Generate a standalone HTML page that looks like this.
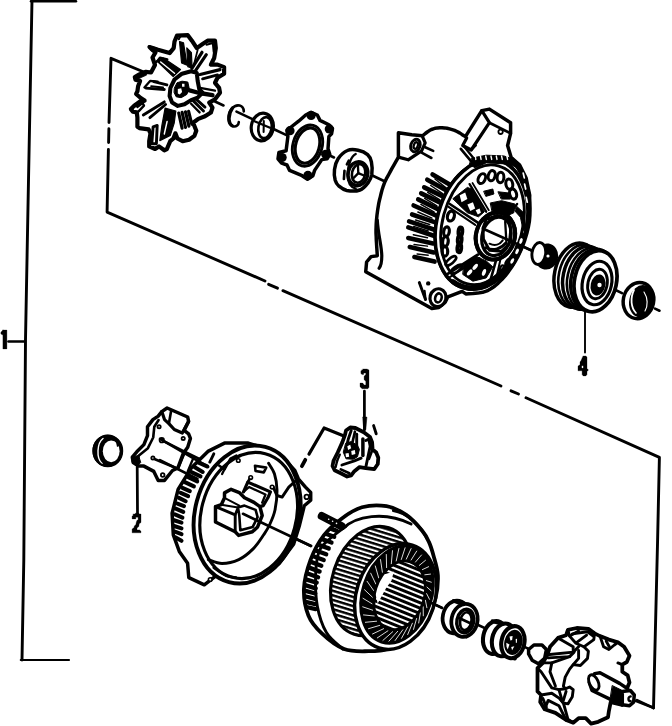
<!DOCTYPE html>
<html><head><meta charset="utf-8"><title>Alternator exploded view</title>
<style>
html,body{margin:0;padding:0;background:#fff;}
body{width:672px;height:726px;overflow:hidden;font-family:"Liberation Sans",sans-serif;}
svg{display:block;}
.lbl{font-family:"Liberation Sans",sans-serif;font-weight:bold;fill:#000;}
</style></head><body>
<svg width="672" height="726" viewBox="0 0 672 726" stroke-linecap="round" stroke-linejoin="round">
<rect x="0" y="0" width="672" height="726" fill="#fff"/>
<line x1="31" y1="1.2" x2="76" y2="1.2" stroke="#000" stroke-width="2.46"/>
<path d="M32.0,0.0 L28.5,180.0 L25.5,340.0 L23.8,560.0 L22.0,660.0" fill="none" stroke="#000" stroke-width="2.90" />
<line x1="20.8" y1="660" x2="69" y2="660" stroke="#000" stroke-width="2.17"/>
<line x1="8.5" y1="341.5" x2="24.5" y2="341.5" stroke="#000" stroke-width="2.61"/>
<path d="M2.9,330.1 L6.9,330.1 L6.9,348.9 L2.9,348.9 L2.9,335.0 L0.9,334.0 L0.9,332.2 L2.9,330.1 Z" fill="#000" stroke="#000" stroke-width="0.3"/>
<path d="M363.2,369.0 L367.0,369.0 L369.0,370.1 L369.0,387.3 L367.9,388.7 L362.1,388.7 L360.0,386.7 L360.0,383.1 L362.7,383.1 L364.3,385.1 L365.8,385.1 L365.8,381.3 L364.1,379.7 L364.1,376.2 L365.8,374.6 L365.8,373.0 L363.8,373.0 L363.6,374.6 L362.1,374.6 L360.9,373.5 L360.9,371.0 Z" fill="#000" stroke="#000" stroke-width="0.3"/>
<line x1="364.4" y1="391" x2="364.4" y2="430" stroke="#000" stroke-width="2.75"/>
<path d="M583.2,356.0 L585.8,356.0 L587.0,357.1 L587.0,369.0 L588.1,369.2 L588.1,370.8 L587.0,371.0 L587.0,374.6 L585.8,375.9 L583.2,375.9 L582.1,374.6 L582.1,370.8 L578.0,370.8 L578.0,366.1 L580.0,364.7 L580.0,362.1 L581.2,360.3 L582.1,358.0 Z" fill="#000" stroke="#000" stroke-width="0.3"/>
<path d="M581.8,365.8 L583.2,365.8 L583.2,368.1 L581.8,368.1 Z" fill="#fff" stroke="none" stroke-width="0"/>
<line x1="585" y1="312" x2="585" y2="352.5" stroke="#000" stroke-width="1.89"/>
<path d="M133.2,514.0 L135.4,514.0 L135.4,513.1 L138.8,513.1 L139.2,514.0 L141.0,514.0 L141.0,522.5 L139.2,523.8 L138.8,526.5 L137.0,528.1 L137.0,529.9 L139.6,529.9 L141.0,531.2 L141.0,532.8 L132.1,532.8 L132.1,529.0 L134.1,527.6 L134.3,525.9 L135.8,524.7 L136.3,522.3 L137.0,520.3 L138.1,520.1 L138.1,517.2 L135.8,517.2 L135.8,518.9 L132.1,518.9 L132.1,516.0 L133.2,515.6 Z" fill="#000" stroke="#000" stroke-width="0.3"/>
<line x1="137.2" y1="467" x2="137.5" y2="513" stroke="#000" stroke-width="2.75"/>
<path d="M145.0,72.5 L111.0,58.3 L109.0,122.5" fill="none" stroke="#000" stroke-width="2.90" />
<line x1="108.9" y1="128.8" x2="108.6" y2="142.5" stroke="#000" stroke-width="2.90"/>
<path d="M108.4,149.5 L107.1,212.1 L265.0,281.0" fill="none" stroke="#000" stroke-width="2.90" />
<line x1="268.6" y1="284.3" x2="277.5" y2="288.2" stroke="#000" stroke-width="2.90"/>
<line x1="282.9" y1="290.7" x2="501" y2="386" stroke="#000" stroke-width="2.90"/>
<line x1="511" y1="390.8" x2="518.5" y2="394" stroke="#000" stroke-width="2.90"/>
<path d="M526.0,397.8 L659.4,457.4 L657.6,540.0 L653.5,708.0" fill="none" stroke="#000" stroke-width="2.90" />
<line x1="215" y1="101.4778" x2="223.5" y2="105.47959999999999" stroke="#000" stroke-width="2.61"/>
<line x1="236.5" y1="111.6" x2="253" y2="119.3682" stroke="#000" stroke-width="2.61"/>
<line x1="273" y1="128.7842" x2="287" y2="135.37539999999998" stroke="#000" stroke-width="2.61"/>
<line x1="326" y1="153.7366" x2="334" y2="157.503" stroke="#000" stroke-width="2.61"/>
<line x1="367" y1="173.0394" x2="384" y2="181.043" stroke="#000" stroke-width="2.61"/>
<line x1="486" y1="229.06459999999998" x2="536" y2="252.6046" stroke="#000" stroke-width="2.61"/>
<line x1="553" y1="260.6082" x2="560" y2="263.9038" stroke="#000" stroke-width="2.61"/>
<line x1="615" y1="289.7978" x2="622" y2="293.0934" stroke="#000" stroke-width="2.61"/>
<line x1="655" y1="308.6298" x2="659.5" y2="310.7484" stroke="#000" stroke-width="2.61"/>
<line x1="243" y1="513.8" x2="311" y2="545.9504" stroke="#000" stroke-width="2.61"/>
<line x1="431" y1="602.6863999999999" x2="442" y2="607.8871999999999" stroke="#000" stroke-width="2.61"/>
<line x1="476.5" y1="624.1987999999999" x2="486" y2="628.6904" stroke="#000" stroke-width="2.61"/>
<line x1="525" y1="647.1296" x2="535" y2="651.8575999999999" stroke="#000" stroke-width="2.61"/>
<line x1="637" y1="700.0831999999999" x2="653.4" y2="707.8371199999999" stroke="#000" stroke-width="2.61"/>
<path d="M145.9,71.8 L151.0,72.5 L155.0,65.0 L152.5,57.5 L155.5,52.5 L152.0,49.5 L149.5,47.0 L158.0,49.8 L169.6,53.1 L173.7,48.1 L174.5,41.5 L177.0,35.7 L187.8,35.2 L191.9,40.7 L196.8,48.1 L202.6,44.0 L207.6,40.7 L215.0,40.7 L215.8,48.1 L214.2,58.0 L210.9,64.6 L217.5,64.6 L224.1,67.1 L224.1,73.7 L217.5,77.8 L215.0,82.8 L219.1,87.8 L220.0,92.7 L215.0,99.3 L209.2,102.6 L212.5,107.6 L210.9,112.5 L205.0,116.3 L205.0,116.3 L198.3,118.9 L193.1,122.8 L196.3,130.7 L194.4,135.9 L189.1,139.8 L182.6,141.2 L177.4,138.5 L175.4,133.3 L173.4,138.5 L170.2,141.2 L166.9,149.0 L164.3,150.3 L159.0,146.4 L155.1,149.0 L149.2,146.4 L149.2,141.2 L150.5,133.3 L148.6,129.4 L139.4,128.1 L137.4,126.8 L137.4,117.6 L136.8,112.4 L132.9,111.7 L130.9,109.1 L134.2,105.8 L139.4,101.9 L144.6,100.6 L140.7,98.0 L136.1,94.0 L137.4,91.4 L138.1,86.2 L140.1,80.9 L135.5,79.6 L134.8,77.0 L139.4,74.4 L145.9,71.8 Z" fill="#fff" stroke="#000" stroke-width="4.21" />
<path d="M148.5,46.0 L156.0,48.0 L155.5,52.5 L152.0,51.0 Z" fill="#000" stroke="#000" stroke-width="1.5"/>
<path d="M134.8,76.4 L140.1,73.7 L145.9,72.4 L146.6,75.1 L140.7,77.7 L136.1,79.6 Z" fill="#000" stroke="#000" stroke-width="0.8"/>
<path d="M179.5,41.5 L183.5,42.8 L187.1,65.3 L181.6,63.0 Z" fill="#000" stroke="#000" stroke-width="1.2"/>
<path d="M186.8,47.8 L191.4,52.7 L192.1,68.3 L187.8,66.6 Z" fill="#000" stroke="#000" stroke-width="1.2"/>
<path d="M156.7,60.7 L163.3,58.0 L180.5,69.6 L173.2,76.5 Z" fill="#000" stroke="#000" stroke-width="1.2"/>
<path d="M160.7,62.0 L174.5,73.2" fill="none" stroke-width="1.45" stroke="#fff"/>
<path d="M191.9,68.3 L202.0,52.3" fill="none" stroke="#000" stroke-width="3.19" />
<path d="M195.5,70.6 L206.3,54.7" fill="none" stroke="#000" stroke-width="3.19" />
<path d="M197.7,49.8 L193.5,66.3" fill="none" stroke="#000" stroke-width="1.74" />
<path d="M200.1,74.5 L220.0,69.6" fill="none" stroke="#000" stroke-width="3.19" />
<path d="M202.6,78.8 L217.5,74.9" fill="none" stroke="#000" stroke-width="2.90" />
<path d="M187.8,91.1 L199.3,93.0 L212.5,95.2" fill="none" stroke="#000" stroke-width="4.35" />
<path d="M200.1,87.8 L215.0,90.7" fill="none" stroke="#000" stroke-width="2.32" />
<path d="M170.4,87.8 L174.5,79.5 L182.0,73.7 L191.1,71.2 L196.8,72.9 L197.7,81.2 L199.3,89.4 L202.6,92.7 L197.7,97.7 L191.1,100.1 L184.5,104.3 L177.8,105.9 L172.1,102.6 L169.6,96.0 Z" fill="#fff" stroke="#000" stroke-width="4.06" />
<path d="M174.5,87.8 L177.0,82.8 L182.0,81.2 L187.8,82.0 L189.1,87.8 L186.9,94.4 L181.2,97.7 L176.2,96.8 L174.2,92.7 Z" fill="#000" stroke="#000" stroke-width="1"/>
<path d="M177.8,89.1 L181.2,88.3 L182.1,91.9 L179.8,94.4 L177.8,93.5 Z" fill="#fff" stroke="none" stroke-width="0"/>
<path d="M182.0,83.8 L184.5,83.8 L184.5,86.8 L182.1,86.8 Z" fill="#fff" stroke="none" stroke-width="0"/>
<path d="M188.6,90.2 L199.3,93.0" fill="none" stroke="#000" stroke-width="4.35" />
<path d="M153.8,81.6 L166.9,84.9" fill="none" stroke="#000" stroke-width="2.90" />
<path d="M145.9,88.1 L164.3,89.5" fill="none" stroke="#000" stroke-width="2.90" />
<path d="M151.2,86.2 L163.0,87.5" fill="none" stroke="#000" stroke-width="2.03" />
<path d="M143.3,115.0 L164.3,101.9" fill="none" stroke="#000" stroke-width="2.90" />
<path d="M149.9,117.6 L165.6,104.5" fill="none" stroke="#000" stroke-width="2.90" />
<path d="M134.2,106.1 L138.7,103.8 L142.7,103.2" fill="none" stroke="#000" stroke-width="2.32" />
<path d="M137.4,107.1 L142.0,103.8" fill="none" stroke="#000" stroke-width="2.03" />
<path d="M165.1,108.2 L175.8,111.0 L174.2,123.1 L170.3,135.4 L159.8,140.6 L161.9,125.4 Z" fill="#000" stroke="#000" stroke-width="1.2"/>
<path d="M167.1,121.5 L164.3,134.0" fill="none" stroke="#fff" stroke-width="1.45" />
<path d="M153.1,126.8 L157.2,125.4 L156.4,143.8 L151.8,143.8 Z" fill="#fff" stroke="#000" stroke-width="2.90" />
<path d="M178.7,113.0 L182.1,128.1" fill="none" stroke="#000" stroke-width="3.19" />
<path d="M182.1,112.4 L185.5,127.4" fill="none" stroke="#000" stroke-width="3.19" />
<path d="M185.5,111.8 L188.9,126.1" fill="none" stroke="#000" stroke-width="3.19" />
<path d="M188.6,111.3 L191.8,124.1" fill="none" stroke="#000" stroke-width="3.19" />
<path d="M193.1,100.6 L203.5,111.0" fill="none" stroke="#000" stroke-width="2.90" />
<path d="M196.3,99.3 L205.0,107.1" fill="none" stroke="#000" stroke-width="2.90" />
<path d="M191.1,103.8 L199.6,112.4" fill="none" stroke="#000" stroke-width="2.32" />
<path d="M243.8,111.4 C243.6,105.2 237.0,102.9 231.6,108.8 C226.8,115.0 227.5,125.2 233.4,126.4 C236.4,126.8 238.6,125.0 238.8,122.1" fill="none" stroke="#000" stroke-width="2.61"/>
<path d="M232.5,107.9 C228.0,114.1 228.0,123.0 232.1,125.7" fill="none" stroke="#000" stroke-width="3.33"/>
<ellipse cx="262.3" cy="127" rx="11" ry="13.9" transform="rotate(10 262.3 127)" fill="#fff" stroke="#000" stroke-width="3.19"/>
<ellipse cx="265" cy="127.6" rx="6.6" ry="10.6" transform="rotate(10 265 127.6)" fill="#fff" stroke="#000" stroke-width="2.61"/>
<line x1="254.5" y1="121.2" x2="270" y2="127.8" stroke="#000" stroke-width="2.32"/>
<line x1="263.8" y1="121" x2="263.6" y2="132" stroke="#000" stroke-width="2.03"/>
<path d="M290.5,127.5 L298.6,121.2 L305.7,115.0 L311.1,112.3 L317.3,115.0 L320.0,120.4 L328.9,124.8 L332.5,128.4 L331.6,133.8 L328.9,136.4 L328.0,148.9 L329.8,154.3 L327.1,158.8 L321.8,159.6 L314.6,170.4 L312.9,175.7 L307.5,179.3 L302.1,175.7 L289.6,170.4 L287.0,165.0 L281.6,163.2 L278.0,158.8 L278.9,152.5 L286.1,150.7 L287.9,136.4 L287.0,130.2 Z" fill="#fff" stroke="#000" stroke-width="3.48" />
<circle cx="311.1" cy="115.5" r="4.6" fill="#000"/>
<circle cx="329.3" cy="128.9" r="4.6" fill="#000"/>
<circle cx="325.7" cy="154.3" r="4.6" fill="#000"/>
<circle cx="307.9" cy="175.4" r="4.6" fill="#000"/>
<circle cx="282.1" cy="157.5" r="4.6" fill="#000"/>
<circle cx="290.0" cy="130.7" r="4.6" fill="#000"/>
<ellipse cx="307.5" cy="145.6" rx="14.6" ry="21.0" transform="rotate(16 307.5 145.6)" fill="#fff" stroke="#000" stroke-width="2.90"/>
<ellipse cx="307.5" cy="145.6" rx="11.8" ry="18.0" transform="rotate(16 307.5 145.6)" fill="#fff" stroke="#000" stroke-width="3.19"/>
<path d="M347.4,150.5 C350.7,149.0 354.7,149.5 358.1,150.2 C361.5,150.9 365.4,152.7 367.6,154.6 C369.8,156.6 370.7,158.5 371.4,161.8 C372.1,165.1 372.3,170.8 371.8,174.3 C371.2,177.8 370.2,180.0 368.2,182.6 C366.2,185.2 363.5,188.7 359.9,190.0 C356.3,191.3 350.3,191.1 346.8,190.5 C343.3,189.8 341.0,187.9 339.0,186.2 C337.1,184.5 336.0,183.0 335.2,180.2 C334.5,177.5 334.0,173.1 334.5,169.5 C335.0,166.0 336.0,162.0 338.1,158.8 C340.2,155.6 344.0,151.9 347.4,150.5 Z" fill="#fff" stroke="#000" stroke-width="3.48"/>
<path d="M355.7,154.0 C351.0,156.4 348.0,164.8 347.6,174.3 C347.6,182.6 351.0,187.4 355.7,188.6" fill="none" stroke="#000" stroke-width="2.32"/>
<ellipse cx="357.9" cy="173.7" rx="9.8" ry="12" transform="rotate(12 357.9 173.7)" fill="#fff" stroke="#000" stroke-width="3.48"/>
<ellipse cx="358.6" cy="173.4" rx="6.6" ry="9.4" transform="rotate(12 358.6 173.4)" fill="#fff" stroke="#000" stroke-width="2.61"/>
<path d="M357.9,164.8 L358.3,173.1 L352.7,179.0" fill="none" stroke="#000" stroke-width="2.32" />
<path d="M358.3,173.1 L364.0,175.5" fill="none" stroke="#000" stroke-width="2.32" />
<path d="M348.8,160.6 L346.9,164.3" fill="none" stroke="#000" stroke-width="2.61" />
<path d="M344.5,170.7 L343.9,179.0" fill="none" stroke="#000" stroke-width="2.61" />
<path d="M398.4,132.7 L411.8,134.8 L422.5,135.7 L423.7,134.8 L425.3,133.5 L427.3,132.0 L429.4,130.6 L431.4,129.5 L433.4,128.8 L435.5,128.2 L437.6,127.9 L439.8,127.7 L442.1,127.7 L444.5,127.9 L447.1,128.3 L449.6,128.9 L452.2,129.6 L454.6,130.4 L457.0,131.5 L459.6,132.9 L461.9,134.4 L464.0,135.7 L465.4,136.6 L481.8,110.6 L489.4,109.1 L510.6,122.7 L510.6,133.3 L507.6,145.5 L511.2,157.6 L512.4,159.1 L514.0,161.1 L515.9,163.6 L517.9,166.5 L519.7,169.7 L521.5,173.2 L523.4,177.1 L525.3,181.3 L527.0,185.9 L528.2,190.9 L529.1,196.4 L529.7,202.4 L530.0,208.7 L529.9,215.0 L529.4,221.2 L528.3,227.4 L526.8,233.6 L524.9,239.8 L522.7,245.8 L520.3,251.5 L517.7,256.9 L514.8,262.1 L511.7,267.0 L508.5,271.6 L505.2,275.8 L501.8,279.6 L498.2,283.1 L494.6,286.2 L490.8,288.8 L487.0,290.9 L482.6,292.3 L477.7,293.1 L472.9,293.5 L468.7,293.7 L465.8,293.9 L462.1,291.4 L455.0,294.1 L447.9,296.8 L445.2,302.1 L438.9,307.5 L431.8,308.4 L365.7,271.8 L366.6,262.0 L371.1,256.6 L377.3,255.7 L376.6,245.0 L376.5,243.0 L376.3,240.1 L376.2,236.7 L376.0,233.2 L376.0,230.0 L376.1,227.0 L376.2,224.0 L376.4,221.0 L376.7,218.0 L377.0,215.0 L377.4,212.0 L377.8,209.1 L378.3,206.1 L378.8,203.1 L379.5,200.0 L380.3,196.8 L381.1,193.5 L382.0,190.1 L383.0,186.9 L384.1,183.9 L385.2,181.2 L386.4,178.7 L387.7,176.4 L389.0,174.0 L390.4,171.4 L392.0,168.4 L393.9,165.1 L395.7,161.9 L397.3,159.1 L398.4,157.1 Z" fill="#fff" stroke="#000" stroke-width="3.48" />
<path d="M377.3,220.0 C378.2,235.0 381.5,245.0 381.8,255.7 C381.8,262.0 381.0,266.0 379.1,268.2" fill="none" stroke="#000" stroke-width="3.19"/>
<path d="M398.4,157.1 L408.2,159.8 L421.6,150.9 L425.2,142.9 L422.5,136.6" fill="none" stroke="#000" stroke-width="3.19" />
<ellipse cx="415.4" cy="145.5" rx="4.6" ry="6.4" transform="rotate(20 415.4 145.5)" fill="none" stroke="#000" stroke-width="2.90"/>
<ellipse cx="415.8" cy="145.5" rx="2.0" ry="3.4" transform="rotate(20 415.8 145.5)" fill="none" stroke="#000" stroke-width="2.32"/>
<line x1="425.2" y1="147.3" x2="433.2" y2="150.9" stroke="#000" stroke-width="2.61"/>
<line x1="421.6" y1="152.7" x2="431.4" y2="158" stroke="#000" stroke-width="2.61"/>
<path d="M466.7,137.9 L462.7,145.5 L471.2,150.0 L489.4,122.7 L481.8,110.6" fill="none" stroke="#000" stroke-width="3.19" />
<path d="M471.2,150.0 L475.8,145.5" fill="none" stroke="#000" stroke-width="2.32" />
<path d="M489.4,122.7 L510.6,133.3" fill="none" stroke="#000" stroke-width="2.90" />
<circle cx="500.6" cy="131.8" r="2.2" fill="none" stroke="#000" stroke-width="1.8"/>
<ellipse cx="438" cy="297.7" rx="8" ry="9" transform="rotate(15 438 297.7)" fill="#fff" stroke="#000" stroke-width="3.19"/>
<ellipse cx="438.4" cy="297.9" rx="3.2" ry="4.6" transform="rotate(15 438.4 297.9)" fill="none" stroke="#000" stroke-width="2.61"/>
<line x1="419.3" y1="282.5" x2="425.5" y2="299.5" stroke="#000" stroke-width="2.90"/>
<line x1="424.5" y1="291" x2="425.5" y2="299.5" stroke="#000" stroke-width="2.32"/>
<circle cx="428.2" cy="283.4" r="2.2" fill="#000"/>
<ellipse cx="481.5" cy="224.4" rx="44.5" ry="66" transform="rotate(15 481.5 224.4)" fill="#fff" stroke="#000" stroke-width="3.48"/>
<ellipse cx="482.5" cy="224.8" rx="40" ry="61" transform="rotate(15 482.5 224.8)" fill="none" stroke="#000" stroke-width="2.90"/>
<line x1="432.6" y1="174.4" x2="454.3" y2="187.3" stroke="#000" stroke-width="4.64"/>
<line x1="427.3" y1="179.7" x2="450.5" y2="192.60000000000002" stroke="#000" stroke-width="4.64"/>
<line x1="424.2" y1="187.3" x2="447.5" y2="198.70000000000002" stroke="#000" stroke-width="4.64"/>
<line x1="421.2" y1="193.3" x2="444.4" y2="204.70000000000002" stroke="#000" stroke-width="4.64"/>
<line x1="418.2" y1="199.4" x2="441.4" y2="210.8" stroke="#000" stroke-width="4.64"/>
<line x1="413.6" y1="205.5" x2="439.1" y2="216.9" stroke="#000" stroke-width="4.64"/>
<line x1="412.1" y1="214.5" x2="436.8" y2="222.9" stroke="#000" stroke-width="4.64"/>
<line x1="409.1" y1="221.4" x2="434.6" y2="229.70000000000002" stroke="#000" stroke-width="4.64"/>
<line x1="408.3" y1="227.4" x2="433.8" y2="235.8" stroke="#000" stroke-width="4.64"/>
<line x1="408.3" y1="238" x2="433.1" y2="243.4" stroke="#000" stroke-width="4.64"/>
<line x1="409.8" y1="247.1" x2="433.8" y2="252.5" stroke="#000" stroke-width="4.64"/>
<line x1="414.4" y1="257" x2="434.6" y2="261.6" stroke="#000" stroke-width="4.64"/>
<line x1="434.95000000000005" y1="179.05" x2="446.4" y2="188.15" stroke="#000" stroke-width="1.45"/>
<line x1="430.75" y1="185.5" x2="443.0" y2="193.85000000000002" stroke="#000" stroke-width="1.45"/>
<line x1="427.7" y1="192.3" x2="439.95" y2="199.9" stroke="#000" stroke-width="1.45"/>
<line x1="424.7" y1="198.35000000000002" x2="436.9" y2="205.95" stroke="#000" stroke-width="1.45"/>
<line x1="420.9" y1="204.45" x2="434.25" y2="212.05" stroke="#000" stroke-width="1.45"/>
<line x1="417.85" y1="212.0" x2="431.95000000000005" y2="218.1" stroke="#000" stroke-width="1.45"/>
<line x1="415.6" y1="219.95" x2="429.70000000000005" y2="224.5" stroke="#000" stroke-width="1.45"/>
<line x1="413.70000000000005" y1="226.4" x2="428.20000000000005" y2="230.95" stroke="#000" stroke-width="1.45"/>
<line x1="413.3" y1="234.7" x2="427.45000000000005" y2="237.8" stroke="#000" stroke-width="1.45"/>
<line x1="414.05" y1="244.55" x2="427.45000000000005" y2="246.14999999999998" stroke="#000" stroke-width="1.45"/>
<line x1="417.1" y1="254.05" x2="428.20000000000005" y2="255.25" stroke="#000" stroke-width="1.45"/>
<ellipse cx="481.5" cy="224.4" rx="44.5" ry="66" transform="rotate(15 481.5 224.4)" fill="#fff" stroke="#000" stroke-width="3.48"/>
<ellipse cx="482.5" cy="224.8" rx="40" ry="61" transform="rotate(15 482.5 224.8)" fill="none" stroke="#000" stroke-width="2.90"/>
<path d="M471.8,158.1 L486.2,155.2 L503.8,155.9 L513.8,159.2 L515.3,166.5 L503.8,163.8 L486.2,162.9 L475.2,167.8 L469.6,164.7 Z" fill="#000" stroke="#000" stroke-width="1"/>
<path d="M475.2,156.1 L475.8,159.4" fill="none" stroke="#fff" stroke-width="1.45" />
<path d="M480.4,156.1 L481.1,159.4" fill="none" stroke="#fff" stroke-width="1.45" />
<path d="M485.7,156.1 L486.4,159.4" fill="none" stroke="#fff" stroke-width="1.45" />
<path d="M491.0,156.1 L491.7,159.4" fill="none" stroke="#fff" stroke-width="1.45" />
<path d="M496.3,156.1 L497.0,159.4" fill="none" stroke="#fff" stroke-width="1.45" />
<path d="M501.6,156.1 L502.3,159.4" fill="none" stroke="#fff" stroke-width="1.45" />
<path d="M506.9,156.1 L507.6,159.4" fill="none" stroke="#fff" stroke-width="1.45" />
<path d="M460.8,148.8 L471.8,162.1" fill="none" stroke="#000" stroke-width="2.61" />
<path d="M464.1,146.6 L474.0,158.8" fill="none" stroke="#000" stroke-width="2.32" />
<path d="M512.7,157.6 L520.4,164.3 L527.0,177.5 L530.7,195.2 L530.3,212.8 L527.7,212.8 L528.1,197.4 L523.7,180.8 L517.1,168.7 L511.6,162.1 Z" fill="#000" stroke="#000" stroke-width="1.5"/>
<path d="M523.2,173.1 L524.3,177.9" fill="none" stroke="#fff" stroke-width="1.74" />
<path d="M524.6,184.1 L525.7,189.0" fill="none" stroke="#fff" stroke-width="1.74" />
<path d="M526.2,197.4 L527.3,202.2" fill="none" stroke="#fff" stroke-width="1.74" />
<path d="M453.1,281.2 C470.7,294.4 492.8,285.6 508.2,263.5" fill="none" stroke="#000" stroke-width="4.35"/>
<ellipse cx="481.8" cy="178.6" rx="3.4" ry="5.2" transform="rotate(25 481.8 178.6)" fill="none" stroke="#000" stroke-width="3.04"/>
<ellipse cx="491.7" cy="175.7" rx="3.4" ry="5.2" transform="rotate(15 491.7 175.7)" fill="none" stroke="#000" stroke-width="3.04"/>
<ellipse cx="500.5" cy="177.5" rx="3.4" ry="5.2" transform="rotate(5 500.5 177.5)" fill="none" stroke="#000" stroke-width="3.04"/>
<ellipse cx="509.3" cy="184.1" rx="3.4" ry="5.2" transform="rotate(-10 509.3 184.1)" fill="none" stroke="#000" stroke-width="3.04"/>
<ellipse cx="513.1" cy="194.0" rx="3.4" ry="5.2" transform="rotate(-15 513.1 194.0)" fill="none" stroke="#000" stroke-width="3.04"/>
<ellipse cx="450.9" cy="216.1" rx="3.4" ry="5" transform="rotate(15 450.9 216.1)" fill="none" stroke="#000" stroke-width="3.19"/>
<ellipse cx="446.5" cy="231.6" rx="2.8" ry="4.8" transform="rotate(8 446.5 231.6)" fill="none" stroke="#000" stroke-width="3.19"/>
<ellipse cx="445.4" cy="241.5" rx="2.8" ry="4.8" transform="rotate(5 445.4 241.5)" fill="none" stroke="#000" stroke-width="3.19"/>
<ellipse cx="444.9" cy="251.4" rx="2.8" ry="4.8" transform="rotate(0 444.9 251.4)" fill="none" stroke="#000" stroke-width="3.19"/>
<ellipse cx="460.4" cy="231.6" rx="2.0" ry="4.2" transform="rotate(5 460.4 231.6)" fill="none" stroke="#000" stroke-width="3.77"/>
<ellipse cx="459.7" cy="239.7" rx="2.0" ry="4.2" transform="rotate(5 459.7 239.7)" fill="none" stroke="#000" stroke-width="3.77"/>
<ellipse cx="459.3" cy="248.1" rx="2.0" ry="4.2" transform="rotate(5 459.3 248.1)" fill="none" stroke="#000" stroke-width="3.77"/>
<ellipse cx="450.9" cy="260.9" rx="2.6" ry="6.5" transform="rotate(50 450.9 260.9)" fill="none" stroke="#000" stroke-width="2.61"/>
<ellipse cx="456.4" cy="269.1" rx="2.6" ry="6.5" transform="rotate(55 456.4 269.1)" fill="none" stroke="#000" stroke-width="2.61"/>
<path d="M453.1,198.5 L467.4,187.4 L472.9,189.6 L484.4,211.7 L478.5,216.8 L467.4,212.8 L458.6,204.4 Z" fill="#000" stroke="#000" stroke-width="1"/>
<path d="M459.7,195.2 L465.2,192.5 L467.4,199.1 L461.5,202.2 Z" fill="#fff" stroke="none" stroke-width="0"/>
<path d="M467.4,204.4 L472.9,202.2 L475.2,208.4 L470.3,211.0 Z" fill="#fff" stroke="none" stroke-width="0"/>
<path d="M475.6,210.2 L479.6,208.4 L480.9,212.8 L477.8,214.6 Z" fill="#fff" stroke="none" stroke-width="0"/>
<path d="M484.0,191.2 L492.8,189.0 L493.9,194.0 L486.2,196.3 Z" fill="#000" stroke="#000" stroke-width="1"/>
<path d="M498.3,191.8 L508.2,192.9 L510.4,199.1 L501.6,199.1 Z" fill="#000" stroke="#000" stroke-width="1"/>
<path d="M490.6,202.9 L501.6,200.7 L514.9,204.0 L513.8,212.8 L503.8,217.2 L492.8,213.9 Z" fill="#000" stroke="#000" stroke-width="1"/>
<path d="M449.8,204.0 L477.8,222.7" fill="none" stroke="#000" stroke-width="2.61" />
<path d="M448.2,206.6 L475.2,224.9" fill="none" stroke="#000" stroke-width="2.03" />
<path d="M469.6,184.1 L486.2,211.7" fill="none" stroke="#000" stroke-width="2.32" />
<path d="M472.5,183.0 L488.8,210.2" fill="none" stroke="#000" stroke-width="1.74" />
<path d="M517.1,204.0 L509.3,213.9" fill="none" stroke="#000" stroke-width="2.32" />
<ellipse cx="495.4" cy="236" rx="19.4" ry="23.8" transform="rotate(15 495.4 236)" fill="#fff" stroke="#000" stroke-width="3.77"/>
<ellipse cx="496.4" cy="236.4" rx="14.3" ry="19.6" transform="rotate(15 496.4 236.4)" fill="none" stroke="#000" stroke-width="3.19"/>
<path d="M505.2,221.6 L506.5,243.7" fill="none" stroke="#000" stroke-width="2.32" />
<path d="M509.6,220.7 L510.9,241.5" fill="none" stroke="#000" stroke-width="2.32" />
<path d="M485.7,247.7 C493.9,251.4 501.6,248.5 505.6,243.2" fill="none" stroke="#000" stroke-width="2.90"/>
<path d="M489.5,243.7 C495.0,246.3 499.9,244.6 502.7,240.4" fill="none" stroke="#000" stroke-width="2.03"/>
<path d="M464.1,263.5 L476.3,256.5 L486.2,260.9 L492.8,266.8 L486.2,277.9 L472.9,281.2 L463.0,274.6 Z" fill="#000" stroke="#000" stroke-width="1"/>
<ellipse cx="469.6" cy="272.4" rx="1.8" ry="3.6" transform="rotate(40 469.6 272.4)" fill="#fff" stroke="none" stroke-width="0.00"/>
<ellipse cx="475.2" cy="266.8" rx="1.8" ry="3.6" transform="rotate(40 475.2 266.8)" fill="#fff" stroke="none" stroke-width="0.00"/>
<ellipse cx="484.0" cy="272.4" rx="1.8" ry="3.6" transform="rotate(20 484.0 272.4)" fill="#fff" stroke="none" stroke-width="0.00"/>
<path d="M446.5,274.6 L477.8,254.7" fill="none" stroke="#000" stroke-width="2.90" />
<path d="M449.8,277.2 L479.6,258.0" fill="none" stroke="#000" stroke-width="2.03" />
<path d="M496.1,260.2 L490.2,281.2" fill="none" stroke="#000" stroke-width="2.61" />
<path d="M500.5,259.1 L496.1,279.0" fill="none" stroke="#000" stroke-width="2.03" />
<ellipse cx="502.1" cy="269.1" rx="2.2" ry="3.8" transform="rotate(20 502.1 269.1)" fill="none" stroke="#000" stroke-width="2.32"/>
<ellipse cx="508.2" cy="262.4" rx="2.2" ry="3.8" transform="rotate(30 508.2 262.4)" fill="none" stroke="#000" stroke-width="2.32"/>
<path d="M517.1,243.7 L512.7,256.9 L504.9,270.2" fill="none" stroke="#000" stroke-width="2.32" />
<line x1="486" y1="230" x2="536" y2="252.5" stroke="#000" stroke-width="2.61"/>
<ellipse cx="546.5" cy="256.5" rx="10.5" ry="12" transform="rotate(10 546.5 256.5)" fill="#000" stroke="#000" stroke-width="2.17"/>
<ellipse cx="538.8" cy="253.5" rx="6.8" ry="11" transform="rotate(8 538.8 253.5)" fill="#fff" stroke="#000" stroke-width="2.90"/>
<circle cx="548" cy="256" r="1.6" fill="#fff"/>
<ellipse cx="576.0" cy="275.2" rx="21.5" ry="32.5" transform="rotate(12 576.0 275.2)" fill="#fff" stroke="#000" stroke-width="3.48"/>
<ellipse cx="580.3" cy="276.5" rx="21.5" ry="32.17" transform="rotate(12 580.3 276.5)" fill="#fff" stroke="#000" stroke-width="2.61"/>
<ellipse cx="584.6" cy="277.8" rx="21.5" ry="31.84" transform="rotate(12 584.6 277.8)" fill="#fff" stroke="#000" stroke-width="3.48"/>
<ellipse cx="588.9" cy="279.0" rx="21.5" ry="31.51" transform="rotate(12 588.9 279.0)" fill="#fff" stroke="#000" stroke-width="2.61"/>
<ellipse cx="592.6" cy="280.1" rx="21.5" ry="31.225" transform="rotate(12 592.6 280.1)" fill="#fff" stroke="#000" stroke-width="3.48"/>
<ellipse cx="595.5" cy="281.2" rx="21" ry="31" transform="rotate(12 595.5 281.2)" fill="#fff" stroke="#000" stroke-width="3.77"/>
<ellipse cx="597" cy="283" rx="14.6" ry="22" transform="rotate(12 597 283)" fill="none" stroke="#000" stroke-width="3.19"/>
<ellipse cx="597.5" cy="284" rx="9.6" ry="15" transform="rotate(12 597.5 284)" fill="none" stroke="#000" stroke-width="2.90"/>
<ellipse cx="598" cy="285" rx="6.2" ry="9.6" transform="rotate(12 598 285)" fill="#000" stroke="#000" stroke-width="2.17"/>
<circle cx="599.5" cy="285" r="2.2" fill="#fff"/>
<ellipse cx="638.5" cy="300.6" rx="15.2" ry="18.2" transform="rotate(12 638.5 300.6)" fill="#fff" stroke="#000" stroke-width="3.48"/>
<ellipse cx="641.5" cy="301.2" rx="11.2" ry="15.2" transform="rotate(12 641.5 301.2)" fill="#000" stroke="#000" stroke-width="2.17"/>
<path d="M634.0,290.0 C630.0,298.0 631.0,308.0 636.0,313.0" fill="none" stroke="#fff" stroke-width="1.74"/>
<path d="M644.0,292.0 C648.0,298.0 648.0,306.0 645.0,311.0" fill="none" stroke="#fff" stroke-width="1.16"/>
<ellipse cx="107.6" cy="450.9" rx="14.4" ry="15.4" transform="rotate(0 107.6 450.9)" fill="#000" stroke="#000" stroke-width="1.45"/>
<ellipse cx="111.2" cy="451.3" rx="8.4" ry="10.9" transform="rotate(0 111.2 451.3)" fill="#fff" stroke="none" stroke-width="0.00"/>
<path d="M103.0,438.5 C97.0,443.0 96.0,458.0 102.0,463.5" fill="none" stroke="#fff" stroke-width="1.45"/>
<path d="M116.0,442.0 L118.5,441.0 L119.0,446.0 L117.0,447.0 Z" fill="#000" stroke="none" stroke-width="0"/>
<ellipse cx="107.8" cy="450.9" rx="14.4" ry="15.4" transform="rotate(0 107.8 450.9)" fill="none" stroke="#000" stroke-width="2.03"/>
<path d="M161.8,411.6 L167.1,408.0 L187.7,417.0 L188.6,421.4 L184.1,430.4 L188.6,433.9 L190.4,438.4 L187.7,447.3 L183.2,453.6 L177.9,467.9 L172.5,470.5 L164.5,480.4 L158.2,480.4 L153.8,471.4 L143.9,466.1 L138.6,466.1 L133.2,462.5 L132.3,457.1 L136.8,451.8 L143.9,444.6 L147.5,435.7 L147.5,426.8 L152.9,419.6 L158.2,416.1 Z" fill="#fff" stroke="#000" stroke-width="3.48" />
<path d="M158.6,420.0 L154.3,426.8 L153.2,437.5 L147.9,448.2 L138.9,455.4 L136.8,460.7" fill="none" stroke="#000" stroke-width="2.61" />
<path d="M161.8,411.6 L164.5,419.6 L168.9,423.6 L174.3,429.5 L182.3,433.0 L188.6,421.4" fill="none" stroke="#000" stroke-width="3.19" />
<path d="M171.1,411.1 L168.9,423.6" fill="none" stroke="#000" stroke-width="2.61" />
<circle cx="161.8" cy="440.2" r="2.2" fill="#fff" stroke="#000" stroke-width="1.8"/>
<circle cx="183.2" cy="438.4" r="1.6" fill="#fff" stroke="#000" stroke-width="1.8"/>
<circle cx="152.9" cy="458.0" r="1.6" fill="#fff" stroke="#000" stroke-width="1.8"/>
<circle cx="162.7" cy="475.0" r="1.8" fill="#fff" stroke="#000" stroke-width="1.8"/>
<circle cx="159.1" cy="426.8" r="1.6" fill="#fff" stroke="#000" stroke-width="1.8"/>
<path d="M163.6,441.1 L185.0,451.8 L205.0,461.6" fill="none" stroke="#000" stroke-width="2.61" />
<path d="M155.0,459.3 L177.9,468.8" fill="none" stroke="#000" stroke-width="2.61" />
<path d="M185.0,451.8 L177.9,468.8" fill="none" stroke="#000" stroke-width="2.61" />
<path d="M193.9,456.8 L187.7,471.4" fill="none" stroke="#000" stroke-width="2.32" />
<path d="M132.9,456.8 L138.6,455.4 L140.7,462.5 L136.8,466.4 L132.3,462.5 Z" fill="#000" stroke="#000" stroke-width="1"/>
<path d="M224.5,443.1 L207.9,451.4 L191.2,468.1 L178.1,489.5 L172.1,513.3 L173.3,534.8 L179.3,551.4 L187.6,563.3 L188.8,577.6 L204.3,584.8 L216.2,575.7 L238.8,582.4 L260.2,577.6 L279.3,563.3 L293.6,544.3 L299.5,525.2 L304.3,505.7 L310.7,500.2 L310.7,492.4 L305.5,487.1 L298.3,478.8 L294.8,470.5 L284.0,458.6 L267.4,449.0 L248.3,443.1 Z" fill="#fff" stroke="#000" stroke-width="3.48" />
<line x1="198.1" y1="462.3" x2="207.1" y2="466.4" stroke="#000" stroke-width="4.06"/>
<line x1="194.8" y1="467.3" x2="202.7" y2="471.9" stroke="#000" stroke-width="4.06"/>
<line x1="191.4" y1="472.2" x2="200.5" y2="476.4" stroke="#000" stroke-width="4.06"/>
<line x1="188.1" y1="477.2" x2="197.2" y2="481.3" stroke="#000" stroke-width="4.06"/>
<line x1="184.8" y1="482.1" x2="193.9" y2="486.3" stroke="#000" stroke-width="4.06"/>
<line x1="182.4" y1="487.9" x2="189.8" y2="491.2" stroke="#000" stroke-width="4.06"/>
<line x1="180.7" y1="492.9" x2="188.1" y2="496.2" stroke="#000" stroke-width="4.06"/>
<line x1="179.0" y1="497.9" x2="185.7" y2="501.2" stroke="#000" stroke-width="4.06"/>
<line x1="177.4" y1="503.6" x2="184.0" y2="506.1" stroke="#000" stroke-width="4.06"/>
<line x1="175.7" y1="508.6" x2="183.2" y2="511.9" stroke="#000" stroke-width="4.06"/>
<line x1="174.9" y1="514.4" x2="182.4" y2="517.7" stroke="#000" stroke-width="4.06"/>
<line x1="174.1" y1="520.2" x2="181.5" y2="522.6" stroke="#000" stroke-width="4.06"/>
<line x1="174.1" y1="526.0" x2="181.5" y2="528.4" stroke="#000" stroke-width="4.06"/>
<line x1="174.9" y1="531.7" x2="181.5" y2="534.2" stroke="#000" stroke-width="4.06"/>
<line x1="175.7" y1="537.5" x2="181.5" y2="540.8" stroke="#000" stroke-width="4.06"/>
<ellipse cx="247.1" cy="514.5" rx="52" ry="70" transform="rotate(15 247.1 514.5)" fill="#fff" stroke="#000" stroke-width="3.92"/>
<ellipse cx="248.7" cy="515.5" rx="47.5" ry="64" transform="rotate(15 248.7 515.5)" fill="none" stroke="#000" stroke-width="3.19"/>
<path d="M268.6,463.3 C269.6,465.1 273.1,469.6 274.5,474.0 C275.9,478.4 276.9,484.0 277.0,490.0 C277.1,496.0 276.2,504.2 275.0,510.0 C273.8,515.8 271.4,520.8 269.5,525.0 C267.6,529.2 266.2,531.0 263.5,535.0 C260.8,539.0 257.2,544.8 253.1,548.9 C249.0,553.0 244.0,557.2 238.8,559.6 C233.6,562.0 227.1,563.5 222.0,563.5 C216.9,563.5 210.6,560.2 208.3,559.6" fill="none" stroke="#000" stroke-width="2.90"/>
<path d="M213.7,567.7 C215.8,569.0 222.5,574.1 226.2,575.7 C229.9,577.3 234.4,577.2 236.0,577.5" fill="none" stroke="#000" stroke-width="2.61"/>
<circle cx="306.7" cy="496.9" r="2.2" fill="#fff" stroke="#000" stroke-width="1.8"/>
<path d="M273.3,487.1 L276.9,495.5 L282.1,497.1 L288.8,487.1 L297.9,478.8" fill="none" stroke="#000" stroke-width="2.90" />
<path d="M213.8,453.8 L209.8,462.1" fill="none" stroke="#000" stroke-width="2.90" />
<path d="M219.3,465.7 L224.5,469.3 L230.5,458.6 L236.4,455.7" fill="none" stroke="#000" stroke-width="2.61" />
<path d="M224.5,469.3 L222.1,474.0" fill="none" stroke="#000" stroke-width="2.32" />
<circle cx="238.3" cy="460.5" r="1.8" fill="#fff" stroke="#000" stroke-width="1.6"/>
<circle cx="210.2" cy="579.5" r="1.8" fill="#fff" stroke="#000" stroke-width="1.6"/>
<circle cx="272.1" cy="487.1" r="1.8" fill="#fff" stroke="#000" stroke-width="1.6"/>
<circle cx="250.7" cy="477.6" r="1.8" fill="#fff" stroke="#000" stroke-width="1.6"/>
<path d="M255.0,465.7 L266.2,467.6 L263.8,472.4 L255.5,471.0 Z" fill="none" stroke="#000" stroke-width="2.61" />
<path d="M224.5,492.9 L231.1,489.3 L239.3,492.6 L244.5,497.8 L254.0,502.4 L259.9,506.6 L262.2,515.5 L257.6,526.9 L252.4,531.8 L238.6,535.4 L235.2,531.8 L215.5,522.0 L215.5,506.6 L221.3,504.7 L224.5,497.8 Z" fill="#fff" stroke="#000" stroke-width="3.48" />
<path d="M215.5,506.6 L235.2,514.8 L235.2,531.8" fill="none" stroke="#000" stroke-width="2.90" />
<path d="M221.3,504.7 L238.0,507.6" fill="none" stroke="#000" stroke-width="2.03" />
<path d="M224.5,497.8 L239.3,505.6" fill="none" stroke="#000" stroke-width="2.03" />
<path d="M235.2,514.8 L238.0,507.6 L244.5,505.6 L255.6,509.9 L257.6,517.1 L252.7,526.9 L240.3,530.2 L239.3,515.5 L238.0,507.6" fill="none" stroke="#000" stroke-width="2.61" />
<path d="M243.5,491.9 L247.8,482.1 L270.4,491.9 L267.9,497.8 L263.2,505.6 L259.9,506.6" fill="none" stroke="#000" stroke-width="3.19" />
<path d="M243.5,491.9 L249.1,487.0 L265.5,494.5 L262.2,502.7" fill="none" stroke="#000" stroke-width="2.32" />
<path d="M247.8,482.1 L249.4,479.1" fill="none" stroke="#000" stroke-width="2.61" />
<line x1="243" y1="513.8" x2="311" y2="546" stroke="#000" stroke-width="2.61"/>
<line x1="160" y1="438.8" x2="208.2" y2="466.9" stroke="#000" stroke-width="2.61"/>
<line x1="160" y1="460.2" x2="197.5" y2="479" stroke="#000" stroke-width="2.61"/>
<path d="M346.0,430.6 L350.2,427.5 L355.4,428.0 L363.8,432.2 L370.0,436.9 L372.1,442.1 L372.6,449.4 L376.2,452.5 L378.3,457.7 L377.8,464.0 L374.2,469.2 L365.8,468.1 L359.6,467.1 L354.4,471.2 L351.2,475.4 L347.1,476.5 L340.8,473.3 L334.6,470.2 L332.5,466.0 L333.5,460.8 L337.7,452.5 L342.4,442.1 L345.0,434.8 Z" fill="#fff" stroke="#000" stroke-width="3.77" />
<path d="M351.2,430.6 L348.3,439.0 L346.6,446.2" fill="none" stroke="#000" stroke-width="2.90" />
<path d="M354.9,431.7 L352.5,442.1" fill="none" stroke="#000" stroke-width="2.61" />
<path d="M356.7,434.3 L356.7,445.2" fill="none" stroke="#000" stroke-width="2.90" />
<path d="M362.9,439.0 L362.9,455.6" fill="none" stroke="#000" stroke-width="3.48" />
<path d="M365.8,440.5 L368.8,439.2 L370.2,446.2 L365.8,467.1" fill="none" stroke="#000" stroke-width="2.90" />
<path d="M372.6,449.4 L369.0,458.8" fill="none" stroke="#000" stroke-width="2.61" />
<path d="M346.0,443.1 L351.2,441.6 L357.5,445.2 L359.4,449.4 L357.5,456.7 L353.3,459.3 L346.0,458.8 L343.4,452.5 Z" fill="#000" stroke="#000" stroke-width="1"/>
<path d="M347.3,446.2 L350.2,444.7 L351.2,448.3 L348.1,449.9 Z" fill="#fff" stroke="none" stroke-width="0"/>
<path d="M351.2,450.9 L354.9,449.9 L355.4,454.1 L351.8,455.1 Z" fill="#fff" stroke="none" stroke-width="0"/>
<path d="M345.5,453.5 L348.6,453.0 L349.2,456.7 L346.0,457.2 Z" fill="#fff" stroke="none" stroke-width="0"/>
<path d="M341.9,465.0 L354.4,460.8 L361.1,458.2" fill="none" stroke="#000" stroke-width="2.90" />
<path d="M340.8,469.4 L349.4,473.3" fill="none" stroke="#000" stroke-width="2.61" />
<path d="M337.2,460.8 L335.6,467.1" fill="none" stroke="#000" stroke-width="2.32" />
<path d="M339.8,454.6 L336.7,461.9" fill="none" stroke="#000" stroke-width="2.32" />
<path d="M373.6,425.6 L376.2,433.8" fill="none" stroke="#000" stroke-width="2.90" />
<path d="M362.9,417.1 L366.9,417.1 L365.8,429.6 L364.3,430.6 Z" fill="#000" stroke="#000" stroke-width="0.5"/>
<path d="M343.3,435.8 L324.1,428.0 L309.0,454.1" fill="none" stroke="#000" stroke-width="3.19" />
<line x1="305.3" y1="459.8" x2="301.9" y2="466.2" stroke="#000" stroke-width="3.77"/>
<defs>
<pattern id="hat" width="8" height="4.4" patternUnits="userSpaceOnUse" patternTransform="rotate(17)"><rect x="0" y="0" width="8" height="2.4" fill="#000"/></pattern>
<pattern id="hat2" width="8" height="5" patternUnits="userSpaceOnUse" patternTransform="rotate(22)"><rect x="0" y="0" width="8" height="3.0" fill="#000"/></pattern>
<clipPath id="clipD"><ellipse cx="371.5" cy="581" rx="39" ry="56" transform="rotate(18 371.5 581)"/></clipPath>
<clipPath id="clipF"><ellipse cx="399.5" cy="595.4" rx="24.5" ry="35" transform="rotate(18 399.5 595.4)"/></clipPath>
</defs>
<path d="M341.9,518.4 C335.6,523.1 329.2,528.3 324.0,535.2 C318.8,542.1 314.0,550.8 310.6,559.7 C307.3,568.7 304.3,579.4 303.9,588.8 C303.6,598.1 305.4,608.1 308.4,615.5 C311.4,623.0 315.8,627.8 321.8,633.4 C327.7,639.0 336.3,646.0 344.1,649.0 C351.9,652.0 361.2,651.2 368.7,651.2 C376.1,651.2 381.7,651.2 388.8,649.0 C395.8,646.8 404.7,642.7 411.1,637.9 C417.4,633.0 422.6,626.7 426.7,620.0 C430.8,613.3 433.8,605.1 435.6,597.7 C437.5,590.2 438.2,582.4 437.9,575.4 C437.5,568.3 434.9,560.8 433.4,555.3 C431.9,549.7 430.8,546.0 428.9,541.9 C427.1,537.8 426.0,535.2 422.2,530.7 C418.5,526.2 412.6,519.2 406.6,515.1 C400.7,511.0 394.0,507.5 386.5,506.2 C379.1,504.9 369.4,505.2 362.0,507.3 C354.5,509.3 348.2,513.8 341.9,518.4 Z" fill="#fff" stroke="#000" stroke-width="3.77"/>
<clipPath id="clipS"><path d="M341.9,518.4 C335.6,523.1 329.2,528.3 324.0,535.2 C318.8,542.1 314.0,550.8 310.6,559.7 C307.3,568.7 304.3,579.4 303.9,588.8 C303.6,598.1 305.4,608.1 308.4,615.5 C311.4,623.0 315.8,627.8 321.8,633.4 C327.7,639.0 336.3,646.0 344.1,649.0 C351.9,652.0 361.2,651.2 368.7,651.2 C376.1,651.2 381.7,651.2 388.8,649.0 C395.8,646.8 404.7,642.7 411.1,637.9 C417.4,633.0 422.6,626.7 426.7,620.0 C430.8,613.3 433.8,605.1 435.6,597.7 C437.5,590.2 438.2,582.4 437.9,575.4 C437.5,568.3 434.9,560.8 433.4,555.3 C431.9,549.7 430.8,546.0 428.9,541.9 C427.1,537.8 426.0,535.2 422.2,530.7 C418.5,526.2 412.6,519.2 406.6,515.1 C400.7,511.0 394.0,507.5 386.5,506.2 C379.1,504.9 369.4,505.2 362.0,507.3 C354.5,509.3 348.2,513.8 341.9,518.4 Z"/></clipPath>
<path d="M345.9,526.3 C343.6,528.1 336.4,533.1 332.0,537.0 C327.6,540.9 322.5,543.9 319.8,549.9 C317.1,555.9 316.1,563.6 315.7,573.0 C315.3,582.4 315.5,596.2 317.3,606.1 C319.1,616.0 322.1,625.4 326.4,632.6 C330.7,639.8 340.1,646.4 342.9,649.1" fill="none" stroke="#000" stroke-width="2.90"/>
<path d="M343.0,528.5 C355.3,516.2 384.3,510.6 411.1,524.0" fill="none" stroke="#000" stroke-width="2.90"/>
<path d="M393.2,510.6 C406.6,512.9 420.0,524.0 426.7,538.5" fill="none" stroke="#000" stroke-width="2.61"/>
<g clip-path="url(#clipS)">
<line x1="324.7" y1="526.4" x2="336.8" y2="530.9" stroke="#000" stroke-width="4.35"/>
<line x1="321.4" y1="532.2" x2="334.2" y2="536.7" stroke="#000" stroke-width="4.35"/>
<line x1="318.5" y1="537.9" x2="331.5" y2="542.5" stroke="#000" stroke-width="4.35"/>
<line x1="315.5" y1="543.7" x2="328.7" y2="548.4" stroke="#000" stroke-width="4.35"/>
<line x1="313.0" y1="549.5" x2="326.2" y2="554.2" stroke="#000" stroke-width="4.35"/>
<line x1="310.5" y1="555.3" x2="323.7" y2="560.0" stroke="#000" stroke-width="4.35"/>
<line x1="308.9" y1="561.1" x2="321.3" y2="565.8" stroke="#000" stroke-width="4.35"/>
<line x1="307.2" y1="566.9" x2="319.6" y2="571.6" stroke="#000" stroke-width="4.35"/>
<line x1="305.6" y1="572.7" x2="318.0" y2="577.2" stroke="#000" stroke-width="4.35"/>
<line x1="304.2" y1="578.9" x2="316.6" y2="582.6" stroke="#000" stroke-width="4.35"/>
<line x1="303.6" y1="584.6" x2="315.6" y2="588.3" stroke="#000" stroke-width="4.35"/>
<line x1="303.1" y1="590.2" x2="315.2" y2="593.5" stroke="#000" stroke-width="4.35"/>
<line x1="303.1" y1="595.8" x2="315.0" y2="598.8" stroke="#000" stroke-width="4.35"/>
<line x1="303.6" y1="601.4" x2="315.2" y2="604.1" stroke="#000" stroke-width="4.35"/>
<line x1="304.2" y1="606.5" x2="315.6" y2="609.1" stroke="#000" stroke-width="4.35"/>
</g>
<line x1="321.8" y1="516.0" x2="341.4" y2="526.2" stroke="#000" stroke-width="8.12"/>
<circle cx="328.7" cy="519.3" r="0.8" fill="#fff"/>
<circle cx="332.6" cy="521.3" r="0.8" fill="#fff"/>
<circle cx="336.5" cy="523.4" r="0.8" fill="#fff"/>
<rect x="320" y="510" width="120" height="150" fill="url(#hat)" clip-path="url(#clipD)"/>
<ellipse cx="371.5" cy="581" rx="39" ry="56" transform="rotate(18 371.5 581)" fill="none" stroke="#000" stroke-width="3.19"/>
<ellipse cx="395.6" cy="596.5" rx="39.3" ry="54" transform="rotate(18 395.6 596.5)" fill="#fff" stroke="#000" stroke-width="3.48"/>
<ellipse cx="397" cy="594.5" rx="34.5" ry="50" transform="rotate(18 397 594.5)" fill="#000" stroke="#000" stroke-width="2.90"/>
<line x1="426.9" y1="607.7" x2="425.4" y2="600.3" stroke="#fff" stroke-width="0.85"/>
<line x1="423.3" y1="615.8" x2="423.2" y2="606.8" stroke="#fff" stroke-width="0.85"/>
<line x1="418.7" y1="623.0" x2="420.3" y2="612.9" stroke="#fff" stroke-width="0.85"/>
<line x1="413.5" y1="629.4" x2="416.6" y2="618.5" stroke="#fff" stroke-width="0.85"/>
<line x1="407.7" y1="634.5" x2="412.4" y2="623.2" stroke="#fff" stroke-width="0.85"/>
<line x1="401.5" y1="638.3" x2="407.7" y2="627.0" stroke="#fff" stroke-width="0.85"/>
<line x1="395.1" y1="640.5" x2="402.8" y2="629.8" stroke="#fff" stroke-width="0.85"/>
<line x1="388.9" y1="641.2" x2="397.7" y2="631.3" stroke="#fff" stroke-width="0.85"/>
<line x1="382.9" y1="640.4" x2="392.7" y2="631.7" stroke="#fff" stroke-width="0.85"/>
<line x1="377.3" y1="637.9" x2="387.9" y2="630.8" stroke="#fff" stroke-width="0.85"/>
<line x1="372.5" y1="634.0" x2="383.6" y2="628.7" stroke="#fff" stroke-width="0.85"/>
<line x1="368.5" y1="628.7" x2="379.7" y2="625.4" stroke="#fff" stroke-width="0.85"/>
<line x1="365.4" y1="622.3" x2="376.6" y2="621.2" stroke="#fff" stroke-width="0.85"/>
<line x1="363.5" y1="614.9" x2="374.2" y2="616.0" stroke="#fff" stroke-width="0.85"/>
<line x1="362.7" y1="606.8" x2="372.7" y2="610.2" stroke="#fff" stroke-width="0.85"/>
<line x1="363.0" y1="598.3" x2="372.1" y2="603.8" stroke="#fff" stroke-width="0.85"/>
<line x1="364.5" y1="589.7" x2="372.4" y2="597.2" stroke="#fff" stroke-width="0.85"/>
<line x1="367.1" y1="581.3" x2="373.6" y2="590.5" stroke="#fff" stroke-width="0.85"/>
<line x1="370.7" y1="573.2" x2="375.8" y2="584.0" stroke="#fff" stroke-width="0.85"/>
<line x1="375.3" y1="566.0" x2="378.7" y2="577.9" stroke="#fff" stroke-width="0.85"/>
<line x1="380.5" y1="559.6" x2="382.4" y2="572.3" stroke="#fff" stroke-width="0.85"/>
<line x1="386.3" y1="554.5" x2="386.6" y2="567.6" stroke="#fff" stroke-width="0.85"/>
<line x1="392.5" y1="550.7" x2="391.3" y2="563.8" stroke="#fff" stroke-width="0.85"/>
<line x1="398.9" y1="548.5" x2="396.2" y2="561.0" stroke="#fff" stroke-width="0.85"/>
<line x1="405.1" y1="547.8" x2="401.3" y2="559.5" stroke="#fff" stroke-width="0.85"/>
<line x1="411.1" y1="548.6" x2="406.3" y2="559.1" stroke="#fff" stroke-width="0.85"/>
<line x1="416.7" y1="551.1" x2="411.1" y2="560.0" stroke="#fff" stroke-width="0.85"/>
<line x1="421.5" y1="555.0" x2="415.4" y2="562.1" stroke="#fff" stroke-width="0.85"/>
<line x1="425.5" y1="560.3" x2="419.3" y2="565.4" stroke="#fff" stroke-width="0.85"/>
<line x1="428.6" y1="566.7" x2="422.4" y2="569.6" stroke="#fff" stroke-width="0.85"/>
<line x1="430.5" y1="574.1" x2="424.8" y2="574.8" stroke="#fff" stroke-width="0.85"/>
<line x1="431.3" y1="582.2" x2="426.3" y2="580.6" stroke="#fff" stroke-width="0.85"/>
<line x1="431.0" y1="590.7" x2="426.9" y2="587.0" stroke="#fff" stroke-width="0.85"/>
<line x1="429.5" y1="599.3" x2="426.6" y2="593.6" stroke="#fff" stroke-width="0.85"/>
<ellipse cx="399.5" cy="595.4" rx="24.5" ry="35" transform="rotate(18 399.5 595.4)" fill="#fff" stroke="#000" stroke-width="1.74"/>
<rect x="360" y="550" width="80" height="95" fill="url(#hat2)" clip-path="url(#clipF)"/>
<g clip-path="url(#clipF)">
<path d="M369.8,589.6 L375.5,581.3 L381.3,583.3 L376.7,594.5 L375.0,606.1 L370.6,611.1 Z" fill="#000" stroke="none" stroke-width="0"/>
<path d="M379.3,576.0 L393.7,571.4 L391.6,580.5 L386.0,588.3 L377.7,603.6 L374.4,589.6 Z" fill="#fff" stroke="none" stroke-width="0"/>
</g>
<ellipse cx="399.5" cy="595.4" rx="24.5" ry="35" transform="rotate(18 399.5 595.4)" fill="none" stroke="#000" stroke-width="2.32"/>
<line x1="431" y1="602.7" x2="442" y2="607.9" stroke="#000" stroke-width="2.61"/>
<ellipse cx="455.8" cy="617" rx="13" ry="16.6" transform="rotate(12 455.8 617)" fill="#fff" stroke="#000" stroke-width="3.77"/>
<path d="M453.5,600.8 L462.0,604.0" fill="none" stroke="#000" stroke-width="3.48" />
<path d="M458.0,633.2 L466.5,636.6" fill="none" stroke="#000" stroke-width="3.48" />
<ellipse cx="464.5" cy="620.3" rx="13" ry="16.6" transform="rotate(12 464.5 620.3)" fill="#fff" stroke="#000" stroke-width="3.77"/>
<ellipse cx="465.3" cy="621" rx="8.4" ry="11.8" transform="rotate(12 465.3 621)" fill="#fff" stroke="#000" stroke-width="3.48"/>
<ellipse cx="465.8" cy="621.2" rx="5.6" ry="9" transform="rotate(12 465.8 621.2)" fill="none" stroke="#000" stroke-width="2.61"/>
<line x1="459" y1="618" x2="472" y2="624" stroke="#000" stroke-width="2.61"/>
<ellipse cx="494.7" cy="637.5" rx="11.5" ry="16.6" transform="rotate(12 494.7 637.5)" fill="#fff" stroke="#000" stroke-width="4.06"/>
<path d="M492.5,621.2 L510.5,626.2" fill="none" stroke="#000" stroke-width="3.77" />
<path d="M497.0,653.8 L515.0,658.6" fill="none" stroke="#000" stroke-width="3.77" />
<ellipse cx="503.6" cy="639.9" rx="11.5" ry="16.6" transform="rotate(12 503.6 639.9)" fill="#fff" stroke="#000" stroke-width="4.06"/>
<ellipse cx="512.9" cy="642.2" rx="11.5" ry="16.2" transform="rotate(12 512.9 642.2)" fill="#fff" stroke="#000" stroke-width="4.06"/>
<ellipse cx="513.4" cy="642.4" rx="8.2" ry="11.8" transform="rotate(12 513.4 642.4)" fill="#000" stroke="#000" stroke-width="1.74"/>
<path d="M509.5,636.4 L512.6,636.0 L512.1,640.0 L510.4,640.4 Z" fill="#fff" stroke="none" stroke-width="0"/>
<path d="M506.3,642.7 L509.5,644.5 L507.7,649.4 L506.6,647.1 Z" fill="#fff" stroke="none" stroke-width="0"/>
<path d="M511.2,647.1 L514.4,646.2 L512.1,650.3 Z" fill="#fff" stroke="none" stroke-width="0"/>
<path d="M515.7,639.1 L517.1,638.7 L516.8,642.7 L515.9,642.9 Z" fill="#fff" stroke="none" stroke-width="0"/>
<path d="M528.6,649.5 L533.9,645.0 L542.0,645.0 L546.4,649.5 L544.6,658.4 L538.4,663.8 L532.1,660.2 L528.6,653.9 Z" fill="#fff" stroke="#000" stroke-width="3.48" />
<path d="M567.9,629.8 L576.8,628.0 L588.4,628.9 L594.6,633.4 L600.0,636.1 L608.9,639.6 L617.9,642.3 L624.1,646.8 L629.5,655.7 L626.8,662.0 L622.3,664.6 L622.3,671.8 L627.7,675.4 L629.5,682.5 L626.8,688.8 L622.3,704.8 L610.7,702.1 L608.9,711.1 L608.0,717.3 L598.2,721.8 L591.1,723.6 L585.7,718.2 L578.6,718.2 L573.2,722.7 L566.1,720.0 L555.4,712.9 L544.6,709.3 L540.2,702.1 L541.1,695.0 L537.5,691.4 L537.5,668.2 L542.9,662.9 L547.3,654.8 L550.0,646.8 L558.0,637.9 L566.1,635.2 Z" fill="#fff" stroke="#000" stroke-width="3.77" />
<path d="M567.9,629.8 L569.6,636.1 L575.9,643.2 L583.9,646.8 L593.8,639.6 L594.6,633.4" fill="none" stroke="#000" stroke-width="2.90" />
<path d="M572.3,633.9 L587.5,631.8 L592.9,635.7" fill="none" stroke="#000" stroke-width="2.90" />
<path d="M569.6,636.1 L578.6,631.1" fill="none" stroke="#000" stroke-width="2.90" />
<path d="M576.8,642.3 L586.6,635.2" fill="none" stroke="#000" stroke-width="2.90" />
<path d="M600.0,636.1 L603.6,646.8 L608.9,649.5 L614.3,645.0 L617.9,642.3" fill="none" stroke="#000" stroke-width="2.90" />
<path d="M606.2,641.1 L609.3,646.8" fill="none" stroke="#000" stroke-width="2.90" />
<path d="M547.3,654.8 L573.2,652.1 L578.6,646.8" fill="none" stroke="#000" stroke-width="2.90" />
<path d="M548.2,657.9 L569.6,656.6 L574.1,652.1" fill="none" stroke="#000" stroke-width="2.90" />
<path d="M558.0,637.9 L573.2,646.8 L573.2,652.1" fill="none" stroke="#000" stroke-width="2.90" />
<path d="M583.9,646.8 L588.4,651.2 L587.5,658.4 L580.4,665.5 L573.2,664.6 L569.6,669.1 L565.2,677.1 L563.4,686.1 L565.2,688.8 L569.6,687.0 L573.2,689.6 L572.3,696.8 L567.9,703.9 L563.4,703.0 L559.8,698.6" fill="none" stroke="#000" stroke-width="2.90" />
<path d="M573.2,664.6 L578.6,658.4 L578.6,650.4" fill="none" stroke="#000" stroke-width="2.90" />
<path d="M537.5,668.2 L541.1,671.8 L551.8,687.9 L558.9,689.6 L565.2,688.8" fill="none" stroke="#000" stroke-width="2.90" />
<path d="M551.8,662.9 L550.0,671.8 L555.4,686.1" fill="none" stroke="#000" stroke-width="2.90" />
<path d="M542.9,662.9 L551.8,662.9 L569.6,656.6" fill="none" stroke="#000" stroke-width="2.90" />
<path d="M541.1,695.0 L551.8,693.2 L559.8,698.6 L563.4,703.0 L567.9,719.1 L573.2,722.7" fill="none" stroke="#000" stroke-width="2.90" />
<path d="M544.6,709.3 L548.2,700.4 L558.9,705.7 L566.1,720.0" fill="none" stroke="#000" stroke-width="2.90" />
<path d="M542.9,698.6 L546.4,707.5" fill="none" stroke="#000" stroke-width="2.90" />
<path d="M558.9,689.6 L561.6,698.6" fill="none" stroke="#000" stroke-width="2.90" />
<path d="M566.1,691.4 L563.4,700.4" fill="none" stroke="#000" stroke-width="2.90" />
<path d="M617.9,662.9 L622.3,664.6" fill="none" stroke="#000" stroke-width="2.90" />
<path d="M594.6,673.6 L600.0,672.7 L619.6,683.4 L627.7,688.8 L622.3,704.8 L612.5,700.4 L592.0,690.5 L589.3,682.5 Z" fill="#fff" stroke="#000" stroke-width="3.48" />
<ellipse cx="593.8" cy="682.5" rx="4.4" ry="8.2" transform="rotate(-25 593.8 682.5)" fill="#fff" stroke="#000" stroke-width="2.90"/>
<path d="M612.5,685.7 L622.3,690.5 L622.9,705.4 L614.3,703.2 L610.4,698.6 Z" fill="#000" stroke="#000" stroke-width="1"/>
<path d="M622.3,691.4 L630.4,690.5 L634.3,695.0 L633.6,702.1 L629.5,705.7 L622.3,704.8 Z" fill="#fff" stroke="#000" stroke-width="3.48" />
<path d="M630.7,696.4 C627.7,696.8 627.7,701.2 630.7,701.2" fill="none" stroke="#000" stroke-width="2.32"/>
<line x1="634.3" y1="700.4" x2="653.4" y2="707.8" stroke="#000" stroke-width="2.61"/>
<path d="M507.1,260.2 L517.1,245.9 L521.9,232.7 L525.4,234.9 L521.9,250.3 L513.8,265.7 L506.5,272.4 Z" fill="#000" stroke="#000" stroke-width="1"/>
<ellipse cx="512.2" cy="260.9" rx="1.5" ry="3.0" transform="rotate(30 512.2 260.9)" fill="#fff" stroke="none" stroke-width="0.00"/>
<ellipse cx="517.1" cy="251.4" rx="1.5" ry="3.0" transform="rotate(25 517.1 251.4)" fill="#fff" stroke="none" stroke-width="0.00"/>
<ellipse cx="521.0" cy="241.0" rx="1.5" ry="3.0" transform="rotate(20 521.0 241.0)" fill="#fff" stroke="none" stroke-width="0.00"/>
<path d="M516.6,206.2 L523.7,212.8 L525.9,228.2 L523.2,230.4 L520.4,217.2 L514.9,211.0 Z" fill="#000" stroke="#000" stroke-width="1"/>
<ellipse cx="495.4" cy="236" rx="19.4" ry="23.8" transform="rotate(15 495.4 236)" fill="none" stroke="#000" stroke-width="4.06"/>
<path d="M486.2,219.4 L497.2,215.4 L507.1,217.7 L510.9,228.2 L509.3,243.7 L501.6,251.4 L489.5,250.3 L483.5,239.3 L482.9,228.2 Z" fill="none" stroke="#000" stroke-width="2.90" />
<path d="M156.4,62.1 L159.9,57.6 L167.3,59.4" fill="none" stroke="#000" stroke-width="2.32" />
<path d="M144.4,87.4 L150.1,80.9 L157.6,81.6" fill="none" stroke="#000" stroke-width="2.32" />
<path d="M136.1,106.0 L142.0,102.1 L144.0,105.6 L138.6,111.4" fill="none" stroke="#000" stroke-width="2.32" />
<path d="M178.8,39.3 L180.6,35.8 L186.8,36.1" fill="none" stroke="#000" stroke-width="2.03" />
<path d="M206.5,44.7 L212.8,42.9 L213.7,51.9" fill="none" stroke="#000" stroke-width="2.03" />
</svg>
</body></html>
